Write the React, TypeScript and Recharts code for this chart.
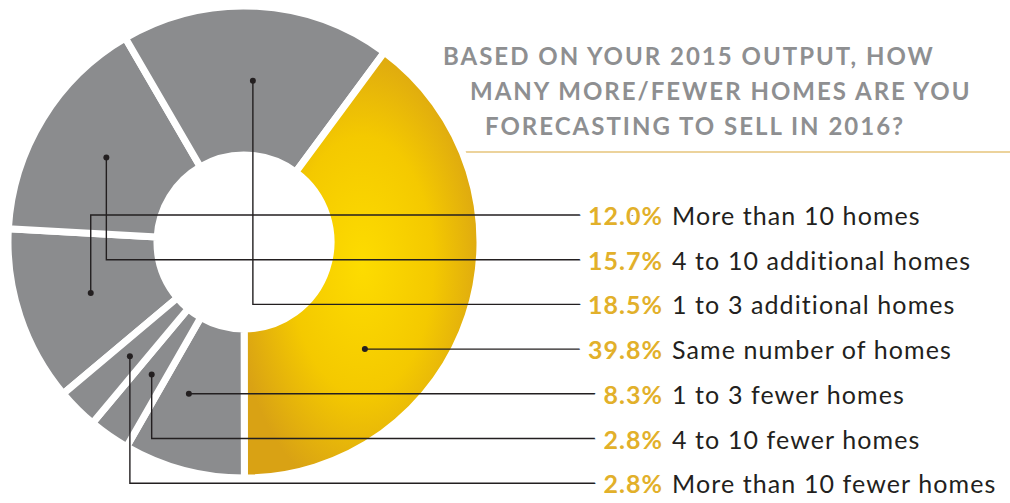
import React from 'react'
import { PieChart, Pie, Cell } from 'recharts'

// answers listed in the order the legend shows them (also the clockwise order of the slices)
const answers = [
  'More than 10 homes',
  '4 to 10 additional homes',
  '1 to 3 additional homes',
  'Same number of homes',
  '1 to 3 fewer homes',
  '4 to 10 fewer homes',
  'More than 10 fewer homes',
]
const shares = [12.0, 15.7, 18.5, 39.8, 8.3, 2.8, 2.8]
const highlight = 'Same number of homes'
const titleLines = [
  'BASED ON YOUR 2015 OUTPUT, HOW',
  'MANY MORE/FEWER HOMES ARE YOU',
  'FORECASTING TO SELL IN 2016?',
]

const data = answers.map((name, i) => ({ name, value: shares[i] }))

const GRAY = '#8b8c8e'
const INK = '#231f20'
const GOLD_TEXT = '#e2b02a'
const FONT = 'Lato, "Noto Sans", sans-serif'

const START = -140
const ROW_TOP = 215
const ROW_STEP = 44.7
const PCT_RIGHT = 663
const RAD = Math.PI / 180

function renderLeader(props: any) {
  const { cx, cy, innerRadius, outerRadius, startAngle, endAngle, midAngle, index, value, name } = props
  const r = (innerRadius + outerRadius) / 2
  const rowY = ROW_TOP + index * ROW_STEP
  let x = cx + r * Math.cos(-midAngle * RAD)
  let y = cy + r * Math.sin(-midAngle * RAD)

  // when the row line crosses the middle of the ring inside this slice, sit the dot on it
  const s = (cy - rowY) / r
  if (Math.abs(s) <= 1) {
    const lo = Math.min(startAngle, endAngle)
    const hi = Math.max(startAngle, endAngle)
    const a1 = Math.asin(s) / RAD
    for (const a of [a1, 180 - a1]) {
      for (const k of [-1080, -720, -360, 0, 360]) {
        const aa = a + k
        if (aa >= lo && aa <= hi) {
          x = cx + r * Math.cos(-aa * RAD)
          y = rowY
        }
      }
    }
  }

  const pct = `${value.toFixed(1)}%`
  return (
    <g key={`leader-${index}`}>
      <path d={`M${x},${y}V${rowY}H${PCT_RIGHT - 10}`} stroke={INK} strokeWidth={1.4} fill="none" />
      <circle cx={x} cy={y} r={3} fill={INK} />
      <text
        x={PCT_RIGHT}
        y={rowY}
        textAnchor="end"
        dominantBaseline="central"
        fill={GOLD_TEXT}
        stroke="#fff"
        strokeWidth={20}
        strokeLinejoin="round"
        paintOrder="stroke"
        fontFamily={FONT}
        fontWeight={700}
        fontSize={25}
        letterSpacing={1}
      >
        {pct}
      </text>
      <text
        x={PCT_RIGHT + 9}
        y={rowY}
        textAnchor="start"
        dominantBaseline="central"
        fill={INK}
        fontFamily={FONT}
        fontSize={25}
        letterSpacing={1.1}
      >
        {name}
      </text>
    </g>
  )
}

const titleLeft = [443, 470, 485]
const titleMid = [56, 91, 126]

export default function App() {
  return (
    <div style={{ position: 'relative', width: 1010, height: 503, background: '#fff', overflow: 'hidden' }}>
      <style>{'body{margin:0}'}</style>
      <div style={{ position: 'absolute', left: 440, top: 151, width: 570, height: 2, background: '#ecd39c' }} />
      {titleLines.map((t, i) => (
        <div
          key={t}
          style={{
            position: 'absolute',
            left: titleLeft[i],
            top: titleMid[i] - 12,
            height: 24,
            lineHeight: '24px',
            fontFamily: FONT,
            fontWeight: 700,
            fontSize: 24,
            letterSpacing: 2,
            color: '#8e8f91',
            whiteSpace: 'nowrap',
          }}
        >
          {t}
        </div>
      ))}
      <div style={{ position: 'absolute', left: 0, top: 0 }}>
        <PieChart width={1010} height={503} margin={{ top: 0, right: 0, bottom: 0, left: 0 }}>
          <defs>
            <radialGradient id="gold" cx="50%" cy="50%" r="55%">
              <stop offset="0%" stopColor="#fddc00" />
              <stop offset="55%" stopColor="#f4c900" />
              <stop offset="100%" stopColor="#d9a214" />
            </radialGradient>
          </defs>
          <Pie
            data={data}
            dataKey="value"
            nameKey="name"
            cx={244}
            cy={242}
            innerRadius={87}
            outerRadius={236}
            startAngle={START}
            endAngle={START - 360}
            stroke="#fff"
            strokeWidth={7}
            label={renderLeader}
            labelLine={false}
            isAnimationActive={false}
          >
            {data.map((d) => (
              <Cell key={d.name} fill={d.name === highlight ? 'url(#gold)' : GRAY} />
            ))}
          </Pie>
        </PieChart>
      </div>
    </div>
  )
}
